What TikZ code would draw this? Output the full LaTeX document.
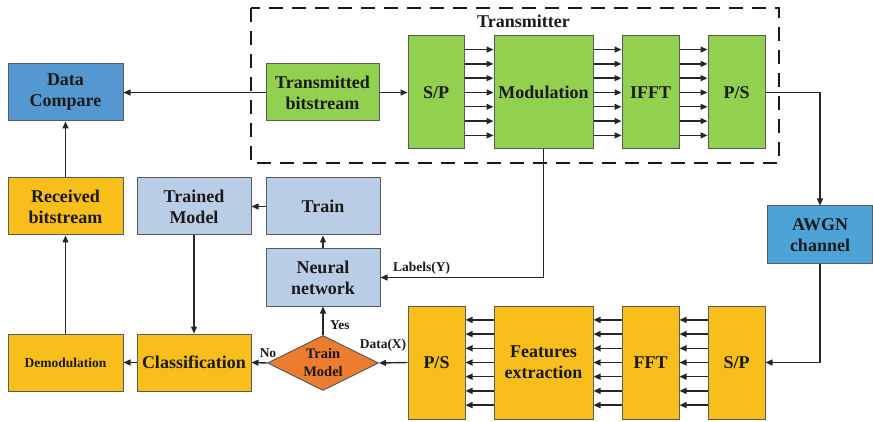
\documentclass[tikz,border=0pt]{standalone}
\usepackage{fontspec}
\setmainfont{Liberation Serif}
\usetikzlibrary{shapes.geometric,arrows.meta}
\definecolor{gfill}{HTML}{92D050}
\definecolor{yfill}{HTML}{F8BE1C}
\definecolor{lbfill}{HTML}{BACDE6}
\definecolor{bfill}{HTML}{5597D0}
\definecolor{awfill}{HTML}{4EA3D6}
\definecolor{ofill}{HTML}{EC7C30}
\definecolor{bord}{HTML}{5A5A5A}
\definecolor{txt}{HTML}{1A1A1A}
\tikzset{
  box/.style={draw=bord, line width=1pt, inner sep=0pt, align=center, text=txt,
    font=\fontsize{18}{21}\selectfont\bfseries},
  wbox/.style={box, minimum width=#1*1pt, minimum height=57pt},
  tall/.style={box, minimum width=#1*1pt, minimum height=113pt},
  arr/.style={draw=black!85, line width=1.4pt, -{Triangle[length=7pt,width=6pt]}},
  lbl/.style={font=\fontsize{13.5}{15}\selectfont\bfseries, text=txt, inner sep=0pt},
}
\begin{document}
\begin{tikzpicture}[x=1pt,y=-1pt]
\useasboundingbox (0,0) rectangle (873,422);
% transmitter frame
\draw[line width=2.5pt, dash pattern=on 14pt off 9pt, black!90] (251,8) rectangle (779,163);
\node[font=\fontsize{18}{21}\selectfont\bfseries, text=txt] (ttl) at (523.5,21) {Transmitter};
% top row
\node[wbox=115, fill=bfill] (dc) at (65.5,92.5) {Data\\Compare};
\node[wbox=113, fill=gfill] (tb) at (322.5,92.5) {Transmitted\\bitstream};
\node[tall=56, fill=gfill] (sp1) at (436,92.5) {S/P};
\node[tall=99, fill=gfill] (mod) at (543.5,92.5) {Modulation};
\node[tall=57, fill=gfill] (ifft) at (650.5,92.5) {IFFT};
\node[tall=57, fill=gfill] (ps1) at (736.5,92.5) {P/S};
% AWGN
\node[box, minimum width=105pt, minimum height=58pt, fill=awfill] (awgn) at (820,235) {AWGN\\channel};
% receiver row
\node[tall=57, fill=yfill] (ps2) at (436.5,362.5) {P/S};
\node[tall=99, fill=yfill] (fe) at (543.5,362.5) {Features\\extraction};
\node[tall=57, fill=yfill] (fft) at (650.5,362.5) {FFT};
\node[tall=57, fill=yfill] (sp2) at (736.5,362.5) {S/P};
% left part
\node[wbox=115, fill=yfill] (rb) at (65.5,206.5) {Received\\bitstream};
\node[wbox=114, fill=lbfill] (tm) at (194,206.5) {Trained\\Model};
\node[wbox=114, fill=lbfill] (tr) at (323,206.5) {Train};
\node[wbox=114, fill=lbfill] (nn) at (323,277.5) {Neural\\network};
\node[wbox=115, fill=yfill, font=\fontsize{13.5}{16}\selectfont\bfseries] (dm) at (65.5,362.5) {Demodulation};
\node[wbox=114, fill=yfill] (cl) at (194,362.5) {Classification};
\node[diamond, draw=bord, line width=1pt, fill=ofill, inner sep=0pt, aspect=2,
  minimum width=111pt, minimum height=55pt, align=center, text=txt,
  font=\fontsize{14.5}{18}\selectfont\bfseries] (dia) at (323,363) {Train\\Model};
% transmitter connectors
\draw[arr] (tb.west) -- (dc.east);
\draw[arr] (tb.east) -- (sp1.west);
\foreach \k in {-3,...,3}{
  \draw[arr] ([yshift=\k*14.3pt]sp1.east) -- ([yshift=\k*14.3pt]mod.west);
  \draw[arr] ([yshift=\k*14.3pt]mod.east) -- ([yshift=\k*14.3pt]ifft.west);
  \draw[arr] ([yshift=\k*14.3pt]ifft.east) -- ([yshift=\k*14.3pt]ps1.west);
  \draw[arr] ([yshift=\k*14.2pt]sp2.west) -- ([yshift=\k*14.2pt]fft.east);
  \draw[arr] ([yshift=\k*14.2pt]fft.west) -- ([yshift=\k*14.2pt]fe.east);
  \draw[arr] ([yshift=\k*14.2pt]fe.west) -- ([yshift=\k*14.2pt]ps2.east);
}
\draw[arr] (ps1.east) -| (awgn.north);
\coordinate (awc) at (awgn.south |- sp2.east);
\draw[arr] (awgn.south) -- (awc) -- (sp2.east);
% receiver / ML connectors
\draw[arr] (ps2.west) -- (dia.east);
\draw[arr] (mod.south) |- (nn.east);
\draw[arr] (dia.north) -- (nn.south);
\draw[arr] (nn.north) -- (tr.south);
\draw[arr] (tr.west) -- (tm.east);
\draw[arr] (tm.south) -- (cl.north);
\draw[arr] (dia.west) -- (cl.east);
\draw[arr] (cl.west) -- (dm.east);
\draw[arr] (dm.north) -- (rb.south);
\draw[arr] (rb.north) -- (dc.south);
% labels
\node[lbl, anchor=west] (lab) at (393,268) {Labels(Y)};
\node[lbl] (dat) at (383,345) {Data(X)};
\node[lbl, anchor=west] (yes) at (330,325) {Yes};
\node[lbl] (no) at (268,353) {No};
\end{tikzpicture}
\end{document}
